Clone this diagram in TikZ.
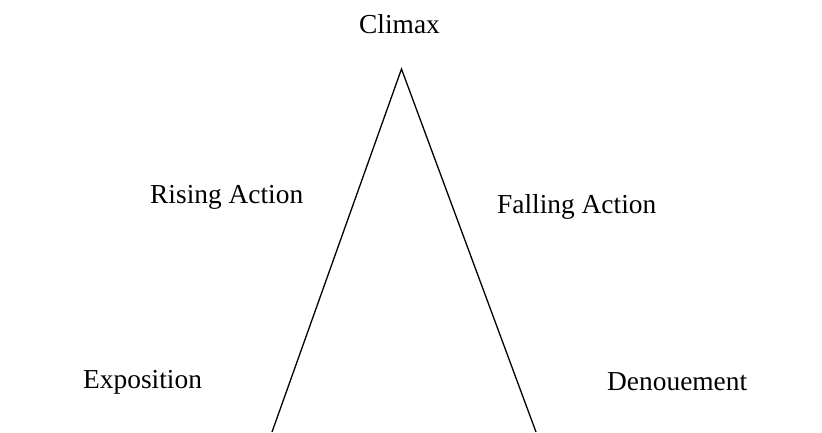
\documentclass[tikz,border=0pt]{standalone}
\usepackage{fontspec}
\setmainfont{Liberation Serif}
\begin{document}
\begin{tikzpicture}[x=1pt,y=-1pt,
  stage/.style={anchor=base west, inner sep=0pt, font=\fontsize{27.4}{32}\selectfont},
  side/.style={line width=1.3pt, black}]
  \useasboundingbox (0,0) rectangle (822,432);
  % plot triangle
  \coordinate (apex) at (401.5,69);
  \coordinate (left) at (272,432);
  \coordinate (right) at (536,432);
  \draw[side] (left) -- (apex) -- (right);
  % stage labels
  \node[stage] (climax) at (359,33) {Climax};
  \node[stage] (rising) at (150,203) {Rising Action};
  \node[stage] (falling) at (497,213) {Falling Action};
  \node[stage] (expo) at (83,388) {Exposition};
  \node[stage] (denou) at (607,390) {Denouement};
\end{tikzpicture}
\end{document}
